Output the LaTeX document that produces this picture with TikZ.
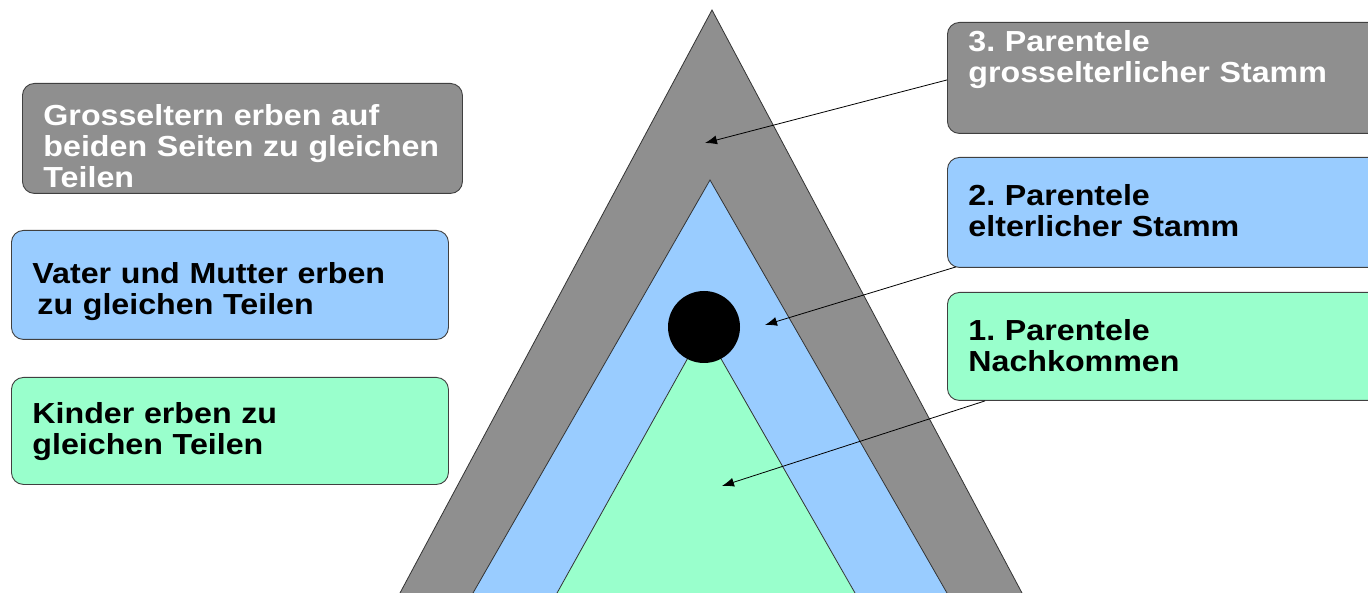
\documentclass[tikz,border=0pt]{standalone}
\usepackage{fontspec}
\setmainfont{Liberation Sans}[FakeStretch=1.11]
\usetikzlibrary{arrows.meta,calc}
\definecolor{cgray}{HTML}{8F8F8F}
\definecolor{cblue}{HTML}{99CCFF}
\definecolor{cgreen}{HTML}{99FFCC}
\frenchspacing
\begin{document}
\begin{tikzpicture}[x=1pt,y=-1pt,
  box/.style={draw=black!75, line width=0.9pt, rounded corners=12pt, anchor=north west,
    inner xsep=21pt, inner ysep=0pt, align=left,
    font=\fontsize{29}{31}\selectfont\bfseries\frenchspacing},
  graybox/.style={box, fill=cgray, text=white},
  bluebox/.style={box, fill=cblue, text=black},
  greenbox/.style={box, fill=cgreen, text=black},
  tri/.style={draw=black!80, line width=0.8pt},
  pointer/.style={draw=black, line width=0.8pt, -{Latex[length=12pt,width=9pt]}}
]
\useasboundingbox (0,0) rectangle (1368,593);
\clip (0,0) rectangle (1368,593);
\fill[white] (0,0) rectangle (1368,593);

% triangles
\draw[tri, fill=cgray] (712,10) -- (369.5,650) -- (1052.3,650) -- cycle;
\draw[tri, fill=cblue] (710,180) -- (440.3,650) -- (979.7,650) -- cycle;
\draw[tri, fill=cgreen] (704,329) -- (525.3,650) -- (887.6,650) -- cycle;
\node[circle, fill=black, minimum size=72pt, inner sep=0pt] (dot) at (704,327) {};

% left boxes
\node[graybox, minimum width=440pt, text width=398pt, text height=42pt, text depth=68pt, minimum height=110pt]
  (lgray) at (22,83) {\mbox{Grosseltern erben auf}\\\mbox{beiden Seiten zu gleichen}\\\mbox{Teilen}};
\node[bluebox, minimum width=437pt, text width=395pt, text height=53pt, text depth=56pt, minimum height=109pt]
  (lblue) at (11,230) {\mbox{Vater und Mutter erben}\\\mbox{\hspace*{5pt}zu gleichen Teilen}};
\node[greenbox, minimum width=437pt, text width=395pt, text height=46pt, text depth=61pt, minimum height=107pt]
  (lgreen) at (11,377) {\mbox{Kinder erben zu}\\\mbox{gleichen Teilen}};

% right boxes
\node[graybox, minimum width=450pt, text width=408pt, text height=29pt, text depth=82pt, minimum height=111pt]
  (rgray) at (947,22) {\mbox{3. Parentele}\\\mbox{grosselterlicher Stamm}};
\node[bluebox, minimum width=450pt, text width=408pt, text height=48pt, text depth=62pt, minimum height=110pt]
  (rblue) at (947,157) {\mbox{2. Parentele}\\\mbox{elterlicher Stamm}};
\node[greenbox, minimum width=450pt, text width=408pt, text height=48pt, text depth=60pt, minimum height=108pt]
  (rgreen) at (947,292) {\mbox{1. Parentele}\\\mbox{Nachkommen}};

% pointer targets
\coordinate (t3) at (705,143);
\coordinate (t2) at (765,325);
\coordinate (t1) at (722,486);

\draw[pointer] ($(rgray.west)+(0,2)$) -- (t3);
\draw[pointer] ($(rblue.south west)+(9,-1)$) -- (t2);
\draw[pointer] ($(rgreen.south west)+(38,0)$) -- (t1);
\end{tikzpicture}
\end{document}
